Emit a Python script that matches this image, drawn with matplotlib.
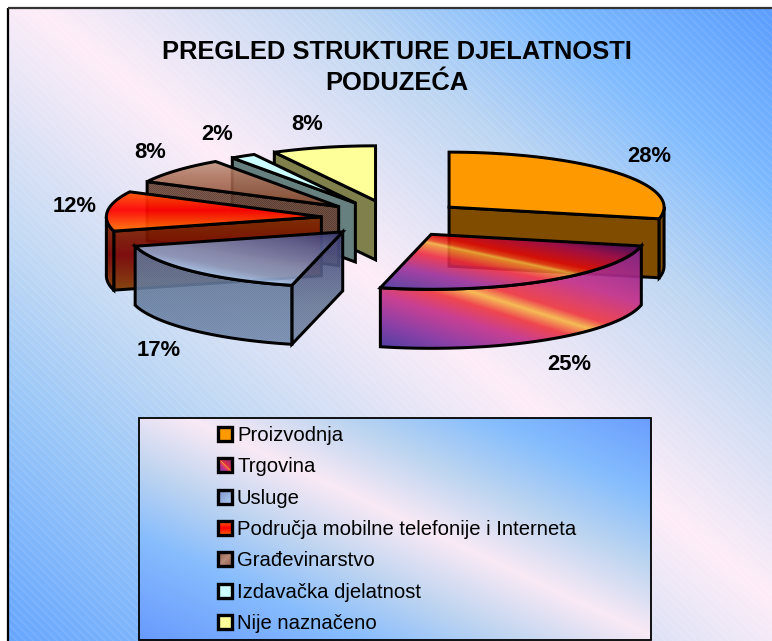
import numpy as np
import matplotlib
matplotlib.use("Agg")
import matplotlib.pyplot as plt
from matplotlib.colors import to_rgb
from matplotlib.patches import Polygon

# ---------- data ----------
title_lines = ["PREGLED STRUKTURE DJELATNOSTI", "PODUZEĆA"]
categories = ["Proizvodnja", "Trgovina", "Usluge",
              "Područja mobilne telefonije i Interneta",
              "Građevinarstvo", "Izdavačka djelatnost", "Nije naznačeno"]
shares = [28.4, 25.4, 17.0, 11.7, 7.8, 1.9, 7.8]
labels = ["28%", "25%", "17%", "12%", "8%", "2%", "8%"]

# ---------- layout (pixels) ----------
W, H = 772, 641
CX, CY, RX, RY, DEPTH, EXPLODE = 393.0, 218.7, 215.0, 55.0, 59.0, 0.335
LABEL_POS = [(649.5, 156), (569, 364), (159, 351), (75, 207), (150, 152), (217, 134), (307, 125)]
DRAW_ORDER = [6, 5, 4, 3, 0, 2, 1]
LW = 2.15

plt.rcParams["font.family"] = ["Liberation Sans", "DejaVu Sans"]
fig = plt.figure(figsize=(W / 100, H / 100), dpi=100, facecolor="white")
ax = fig.add_axes([0, 0, 1, 1])
ax.set_xlim(0, W)
ax.set_ylim(H, 0)
ax.axis("off")
ax.autoscale(False)
_z = [1]


def nz():
    _z[0] += 1
    return _z[0]


def ramp(t, stops):
    pos = np.array([s[0] for s in stops], float)
    cols = np.array([to_rgb(s[1]) for s in stops])
    return np.stack([np.interp(t, pos, cols[:, i]) for i in range(3)], axis=-1)


def paint(pts, fill, alpha=1.0, stipple=0.0, hatch=0.0, edge=True, lw=LW):
    """Fill a polygon with a linear gradient. fill = (origin, direction, stops)."""
    pts = np.asarray(pts, float)
    x0, y0 = np.floor(pts.min(axis=0)) - 1
    x1, y1 = np.ceil(pts.max(axis=0)) + 1
    xs = np.arange(x0, x1) + 0.5
    ys = np.arange(y0, y1) + 0.5
    gx, gy = np.meshgrid(xs, ys)
    (ox, oy), (ux, uy), stops = fill
    rgb = ramp((gx - ox) * ux + (gy - oy) * uy, stops)
    if stipple:
        mask = (np.floor(gx) + np.floor(gy)) % 2 == 0
        rgb = np.where(mask[..., None], rgb * (1 - stipple), rgb + (1 - rgb) * stipple * 0.6)
    if hatch:
        mask = (np.floor(gx) - np.floor(gy)) % 8 < 1.5
        rgb = np.where(mask[..., None], rgb + (1 - rgb) * hatch, rgb)
    rgba = np.dstack([rgb, np.full(gx.shape, alpha)])
    z = nz()
    im = ax.imshow(rgba, extent=(x0, x1, y1, y0), origin="upper", interpolation="nearest",
                   aspect="auto", zorder=z)
    clip = Polygon(pts, closed=True, transform=ax.transData)
    im.set_clip_path(clip)
    if edge:
        ax.add_patch(Polygon(pts, closed=True, fill=False, edgecolor="black", linewidth=lw,
                             joinstyle="miter", zorder=z))


def flat(c):
    return ((0, 0), (0, 1), [(0, c), (1, c)])


def vert(stops):
    return ((0, 0), (0, 1), stops)


# ---------- background ----------
BG_STOPS = [(-600, "#5A9CFF"), (-400, "#7FBBFF"), (-240, "#BDD6F2"), (0, "#FEEDF8"),
            (240, "#C4DAF4"), (400, "#9CC8F8"), (660, "#66A6FF")]
paint([(8, 8), (W + 2, 8), (W + 2, H + 2), (8, H + 2)],
      ((150, 100), (-0.8, 1.0), BG_STOPS), alpha=1, hatch=0.09, edge=False)
ax.plot([8, 8], [H, 8], color="black", lw=1.6, zorder=nz(), solid_capstyle="butt")
ax.plot([8, W], [8, 8], color="#333333", lw=1.6, zorder=nz(), solid_capstyle="butt")

# ---------- slice styles ----------
MAG_TOP = ((500, 258), (0.21, -0.98),
           [(-55, "#40309A"), (-30, "#9A2A98"), (-12, "#F02840"), (-2, "#F08A30"), (0, "#F5B040"),
            (3, "#E84018"), (8, "#E00808"), (25, "#A00850"), (40, "#400868")])
MAG_WALL = ((530, 310), (0.30, -0.954),
            [(-81, "#40309A"), (-55, "#8430A0"), (-30, "#C4308A"), (-12, "#F03840"), (0, "#F8B848"),
             (10, "#F03840"), (40, "#C4308A"), (90, "#84228C")])
BLUE_TOP = ((342, 232), (-0.2, 0.98),
            [(0, "#34346F"), (20, "#60689A"), (45, "#8896BC"), (58, "#92A6CC"), (68, "#AAD0FA")])
RED_WALL = vert([(216, "#803000"), (255, "#780000"), (288, "#803800")])
STYLES = [
    dict(top=flat("#FF9900"), arc=flat("#7F4C00"), cut=flat("#7F4C00"), stipple=0, a_top=1.0, a_side=1.0),
    dict(top=MAG_TOP, arc=MAG_WALL, cut=MAG_WALL, stipple=0, a_top=0.88, a_side=0.92),
    dict(top=BLUE_TOP, arc=vert([(246, "#5E7294"), (345, "#748CB0")]),
         cut=vert([(232, "#40407A"), (300, "#647696"), (345, "#7486A6")]), stipple=0.05, a_top=0.9, a_side=0.9),
    dict(top=vert([(190, "#FF6000"), (210, "#FF0000"), (227, "#FF6000")]), arc=RED_WALL, cut=RED_WALL,
         stipple=0, a_top=0.94, a_side=0.94),
    dict(top=vert([(158, "#C49C8A"), (175, "#AE745C"), (205, "#88462A")]), arc=flat("#684030"), cut=flat("#684030"),
         stipple=0.12, a_top=0.88, a_side=0.92),
    dict(top=flat("#CCFFFF"), arc=flat("#668080"), cut=flat("#668080"), stipple=0, a_top=1.0, a_side=1.0),
    dict(top=flat("#FFFF99"), arc=flat("#80804C"), cut=flat("#80804C"), stipple=0, a_top=1.0, a_side=1.0),
]

# ---------- pie ----------
edges = np.concatenate([[0], np.cumsum(shares)]) / np.sum(shares) * 360.0


def rim(cx, cy, deg):
    a = np.radians(deg)
    return np.column_stack([cx + RX * np.sin(a), cy - RY * np.cos(a)])


for i in DRAW_ORDER:
    a0, a1 = edges[i], edges[i + 1]
    mid = np.radians((a0 + a1) / 2)
    cx = CX + EXPLODE * RX * np.sin(mid)
    cy = CY - EXPLODE * RY * np.cos(mid)
    st = STYLES[i]
    down = np.array([0, DEPTH])
    apex = np.array([cx, cy])
    # cut faces turned towards the viewer
    for ang, normal in ((a0, a0 - 90), (a1, a1 + 90)):
        if np.cos(np.radians(normal)) < -1e-6:
            p = rim(cx, cy, [ang])[0]
            paint([apex, p, p + down, apex + down], st["cut"], alpha=st["a_side"], stipple=st["stipple"])
    # outer wall on the front half
    lo, hi = max(a0, 90), min(a1, 270)
    if hi > lo:
        r = rim(cx, cy, np.linspace(lo, hi, 80))
        paint(np.vstack([r, (r + down)[::-1]]), st["arc"], alpha=st["a_side"], stipple=st["stipple"])
    # top
    r = rim(cx, cy, np.linspace(a0, a1, 80))
    paint(np.vstack([apex, r]), st["top"], alpha=st["a_top"])

for txt, (x, y) in zip(labels, LABEL_POS):
    ax.text(x, y, txt, ha="center", va="center", fontsize=15.8, fontweight="bold", color="black", zorder=500)

# ---------- title ----------
for txt, y in zip(title_lines, (52, 83)):
    ax.text(397, y, txt, ha="center", va="center", fontsize=18.4, fontweight="bold", color="black", zorder=500)

# ---------- legend ----------
LEG_STOPS = [(-230, "#6699FF"), (-140, "#85BEFF"), (-70, "#BDD6F2"), (0, "#FBEBF7"),
             (70, "#C0D6F2"), (140, "#88BEFF"), (250, "#6699FF")]
paint([(139, 418), (651, 418), (651, 640), (139, 640)],
      ((139, 395), (-0.47, 1.0), LEG_STOPS), alpha=1, stipple=0.015, lw=1.3)
legend_y = np.linspace(434, 622, len(categories))
for i, (name, y) in enumerate(zip(categories, legend_y)):
    x0, x1, y0, y1 = 218, 232, y - 7, y + 7
    box = [(x0, y0), (x1, y0), (x1, y1), (x0, y1)]
    if i == 0:
        f = flat("#FF9900")
    elif i == 1:
        f = ((x0, y0), (0.707, -0.707),
             [(-10, "#5A3AA0"), (-3, "#C03090"), (-0.5, "#F05040"), (0, "#F5B040"), (1, "#E03040"), (10, "#802A90")])
    elif i == 2:
        f = ((x0, y0), (0.707, 0.707), [(0, "#7A8CC0"), (20, "#AFD0F8")])
    elif i == 3:
        f = ((x0, y0), (0, 1), [(0, "#FF6600"), (7, "#FF0000"), (14, "#FF6600")])
    elif i == 4:
        f = ((x0, y0), (0.707, 0.707), [(0, "#8C5A48"), (10, "#B98A78"), (20, "#8C5A48")])
    elif i == 5:
        f = flat("#CCFFFF")
    else:
        f = flat("#FFFF99")
    paint(box, f, alpha=1, lw=2.4)
    ax.text(237, y + 1.5, name, ha="left", va="center", fontsize=14.6, color="black", zorder=500)

fig.savefig("out.png", dpi=100, facecolor="white")
